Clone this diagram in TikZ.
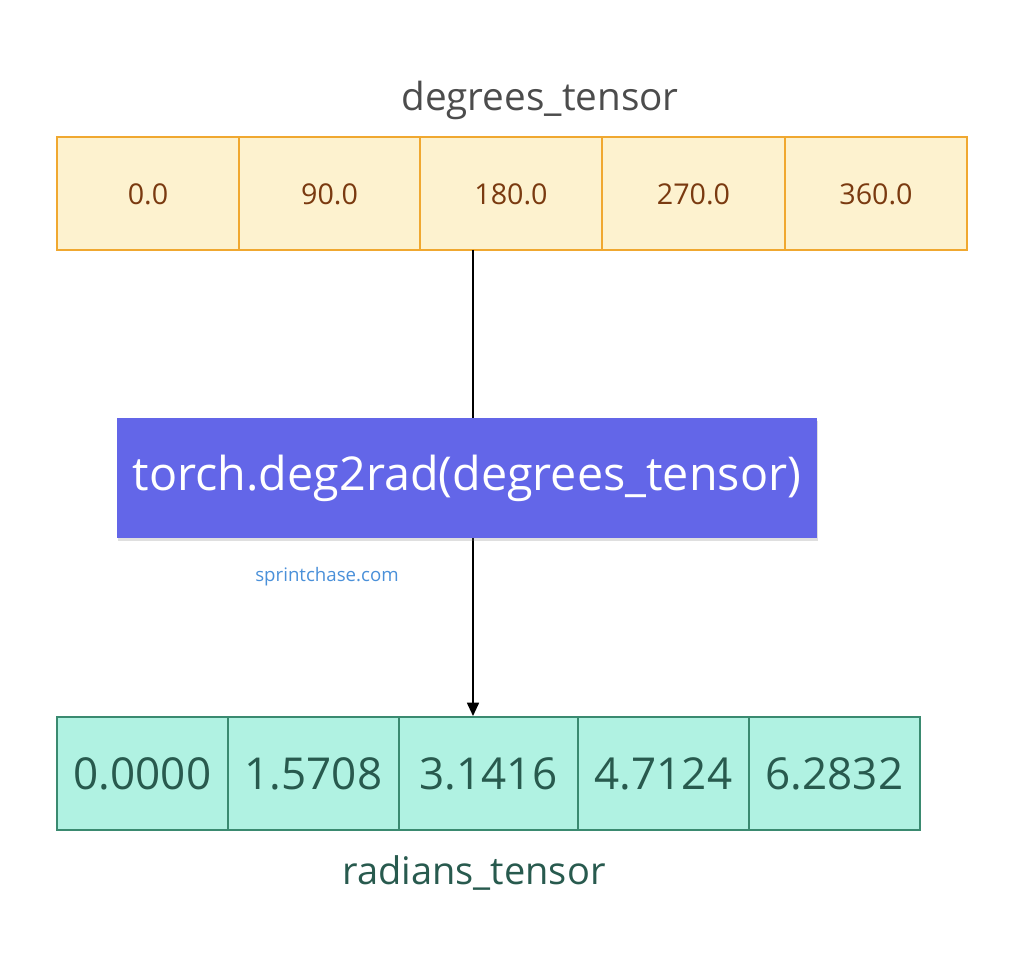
\documentclass[tikz,border=0pt]{standalone}
\usepackage{fontspec}
\setmainfont{Open Sans}
\usetikzlibrary{arrows.meta,shadows}
\definecolor{topfill}{HTML}{FDF2CF}
\definecolor{topdraw}{HTML}{F0A830}
\definecolor{toptext}{HTML}{7A3A10}
\definecolor{botfill}{HTML}{B0F2E2}
\definecolor{botdraw}{HTML}{3A8A70}
\definecolor{bottext}{HTML}{285A4E}
\definecolor{opfill}{HTML}{6366E8}
\definecolor{linkc}{HTML}{4A90D9}
\tikzset{
  topcell/.style={draw=topdraw,fill=topfill,line width=1.5pt},
  botcell/.style={draw=botdraw,fill=botfill,line width=1.5pt},
  conn/.style={line width=1.3pt,-{Triangle[length=10pt,width=9pt]}}
}
\begin{document}
\begin{tikzpicture}[x=0.75pt,y=-0.75pt]
\useasboundingbox (0,0) rectangle (1024,969);
\node[text=black!70,font=\fontsize{29}{31}\selectfont] (tl) at (540,100) {degrees\_tensor};
\foreach \a/\b/\t [count=\i] in {57/239/0.0,239/420/90.0,420/602/180.0,602/785/270.0,785/967/360.0}{
  \draw[topcell] (\a,137) rectangle (\b,250);
  \node[text=toptext,font=\fontsize{21.5}{23}\selectfont] (t\i) at ({(\a+\b)/2},194) {\t};
}
\foreach \a/\b/\t [count=\i] in {57/228/0.0000,228/399/1.5708,399/578/3.1416,578/749/4.7124,749/920/6.2832}{
  \draw[botcell] (\a,717) rectangle (\b,830);
  \node[text=bottext,font=\fontsize{33}{35}\selectfont] (b\i) at ({(\a+\b)/2},774) {\t};
}
\coordinate (src) at (473,250);
\coordinate (dst) at (473,716);
\draw[conn] (src) -- (dst);
\node[fill=opfill,text=white,minimum width=525pt,minimum height=90pt,inner sep=0pt,
  drop shadow={shadow xshift=1pt,shadow yshift=-2pt,opacity=0.25},
  font=\fontsize{35}{37}\selectfont] (op) at (467,478) {torch.deg2rad(degrees\_tensor)};
\node[text=linkc,font=\fontsize{14}{16}\selectfont] (site) at (327,577) {sprintchase.com};
\node[text=bottext,font=\fontsize{28.5}{30}\selectfont] (bl) at (474,873) {radians\_tensor};
\end{tikzpicture}
\end{document}
